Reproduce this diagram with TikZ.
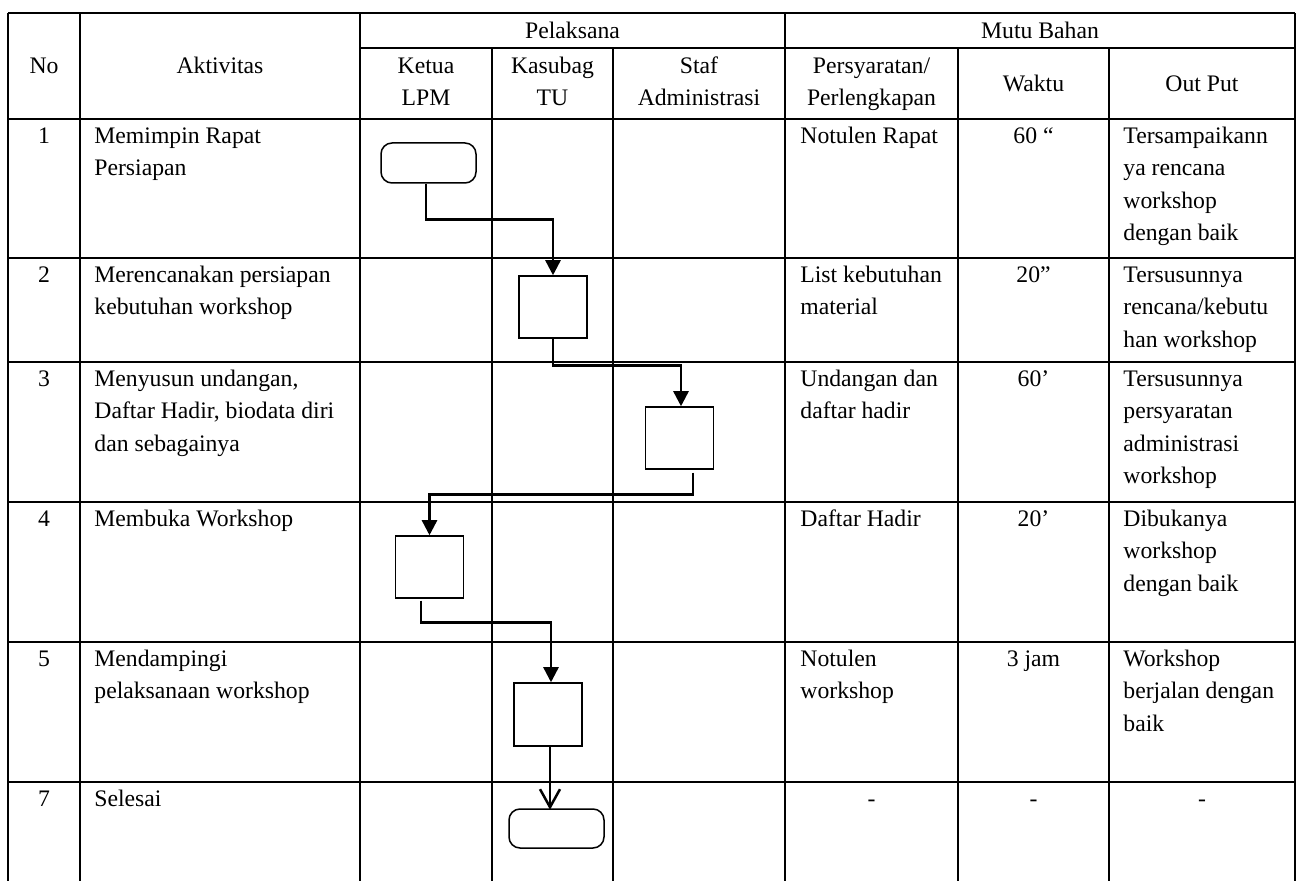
\documentclass[tikz,border=0pt]{standalone}
\usepackage{fontspec}
\setmainfont{Liberation Serif}
\usetikzlibrary{arrows.meta}
\newcommand\cellfont{\fontsize{11.85pt}{16.25pt}\selectfont}
\newcommand\st{\strut}
\begin{document}
\begin{tikzpicture}[x=0.5pt,y=-0.5pt,
  hgrid/.style={line width=0.8pt},
  vgrid/.style={line width=1pt},
  cell/.style={inner sep=0pt, font=\cellfont, align=left, anchor=north west},
  ccell/.style={cell, align=center, anchor=north},
  head/.style={inner sep=0pt, font=\cellfont, anchor=base},
  proc/.style={draw, line width=0.75pt, minimum width=34pt, minimum height=31pt, inner sep=0pt},
  term/.style={draw, line width=0.75pt, rounded corners=5.5pt, minimum width=47.5pt, minimum height=20pt, inner sep=0pt},
  conn/.style={line width=1.25pt, -{Triangle[length=7.5pt,width=7.5pt]}},
  connopen/.style={line width=1.25pt, -{Straight Barb[length=9pt,width=10pt]}}
]
\useasboundingbox (0,0) rectangle (1296,881);
% table grid
\draw[hgrid,line width=1pt] (8,13) -- (1295,13);
\draw[hgrid] (360,48) -- (1295,48);
\foreach \y in {119,258,362,502,642,782} \draw[hgrid] (8,\y) -- (1295,\y);
\foreach \x in {8,80,360,785,1295} \draw[vgrid] (\x,13) -- (\x,881);
\foreach \x in {492,613,958,1109} \draw[vgrid] (\x,48) -- (\x,881);
% header
\node[head] (hNo) at (44,74) {No};
\node[head] (hAkt) at (220,74) {Aktivitas};
\node[head] (hPel) at (572.5,38.5) {Pelaksana};
\node[head] (hMutu) at (1040,38.5) {Mutu Bahan};
\node[ccell] (hKetua) at (426,50) {\st Ketua\\LPM};
\node[ccell] (hKasubag) at (552.5,50) {\st Kasubag\\TU};
\node[ccell] (hStaf) at (699,50) {\st Staf\\Administrasi};
\node[ccell] (hPers) at (871.5,50) {\st Persyaratan/\\Perlengkapan};
\node[head] (hWaktu) at (1033.5,91.5) {Waktu};
\node[head] (hOut) at (1202,91.5) {Out Put};
% row 1
\node[ccell] (n1) at (44,120) {\st 1};
\node[cell] (a1) at (94,120) {\st Memimpin Rapat\\Persiapan};
\node[cell] (p1) at (800,120) {\st Notulen Rapat};
\node[ccell] (w1) at (1033.5,120) {\st 60 “};
\node[cell] (o1) at (1123,120) {\st Tersampaikann\\ya rencana\\workshop\\dengan baik};
% row 2
\node[ccell] (n2) at (44,259) {\st 2};
\node[cell] (a2) at (94,259) {\st Merencanakan persiapan\\kebutuhan workshop};
\node[cell] (p2) at (800,259) {\st List kebutuhan\\material};
\node[ccell] (w2) at (1033.5,259) {\st 20”};
\node[cell] (o2) at (1123,259) {\st Tersusunnya\\rencana/kebutu\\han workshop};
% row 3
\node[ccell] (n3) at (44,363) {\st 3};
\node[cell] (a3) at (94,363) {\st Menyusun undangan,\\Daftar Hadir, biodata diri\\dan sebagainya};
\node[cell] (p3) at (800,363) {\st Undangan dan\\daftar hadir};
\node[ccell] (w3) at (1033.5,363) {\st 60’};
\node[cell] (o3) at (1123,363) {\st Tersusunnya\\persyaratan\\administrasi\\workshop};
% row 4
\node[ccell] (n4) at (44,503) {\st 4};
\node[cell] (a4) at (94,503) {\st Membuka Workshop};
\node[cell] (p4) at (800,503) {\st Daftar Hadir};
\node[ccell] (w4) at (1033.5,503) {\st 20’};
\node[cell] (o4) at (1123,503) {\st Dibukanya\\workshop\\dengan baik};
% row 5
\node[ccell] (n5) at (44,643) {\st 5};
\node[cell] (a5) at (94,643) {\st Mendampingi\\pelaksanaan workshop};
\node[cell] (p5) at (800,643) {\st Notulen\\workshop};
\node[ccell] (w5) at (1033.5,643) {\st 3 jam};
\node[cell] (o5) at (1123,643) {\st Workshop\\berjalan dengan\\baik};
% row 7
\node[ccell] (n7) at (44,783) {\st 7};
\node[cell] (a7) at (94,783) {\st Selesai};
\node[ccell] (p7) at (871.5,783) {\st -};
\node[ccell] (w7) at (1033.5,783) {\st -};
\node[ccell] (o7) at (1202,783) {\st -};
% flow shapes
\node[term] (t1) at (428.5,163) {};
\node[proc] (b2) at (553,307) {};
\node[proc] (b3) at (679.5,438) {};
\node[proc] (b4) at (429.5,567) {};
\node[proc,minimum height=31.5pt] (b5) at (548,714.5) {};
\node[term,minimum height=19.5pt] (t2) at (556.5,828.5) {};
% connectors
\draw[conn] ([xshift=-1.25pt]t1.south) -- ++(0,36) -| (b2.north);
\draw[conn] (b2.south) -- ++(0,27) -| ([xshift=0.75pt]b3.north);
\draw[conn] ([xshift=6.75pt,yshift=-1.5pt]b3.south) -- ++(0,22) -| (b4.north);
\draw[conn] ([xshift=-4.25pt,yshift=-1pt]b4.south) -- ++(0,22) -| ([xshift=1.5pt]b5.north);
\draw[connopen] ([xshift=1pt]b5.south) -- ++(0,63);
\end{tikzpicture}
\end{document}
